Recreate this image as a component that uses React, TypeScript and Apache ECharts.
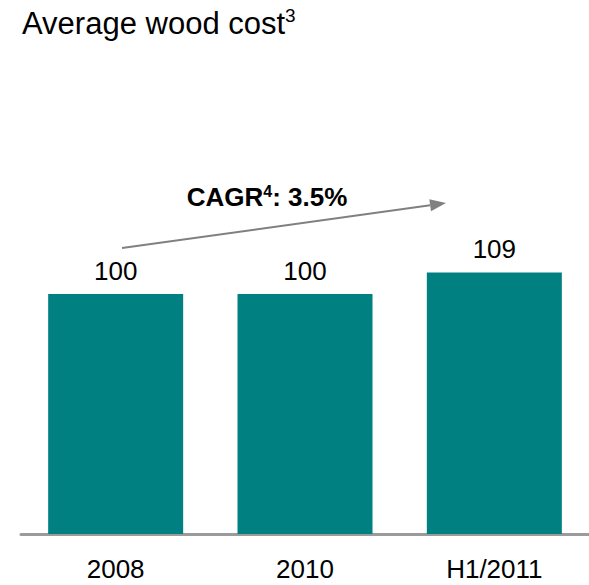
import React, { useEffect, useRef } from "react";
import * as echarts from "echarts";

const categories = ["2008", "2010", "H1/2011"];
const values = [100, 100, 109];
const titleText = "Average wood cost";
const titleNote = "3";
const cagrLabel = "CAGR";
const cagrNote = "4";
const cagrValue = ": 3.5%";

const FONT = "Liberation Sans, Arial, Helvetica, sans-serif";

export default function App() {
  const ref = useRef<HTMLDivElement>(null);
  useEffect(() => {
    document.body.style.margin = "0";
    if (!ref.current) return;
    const chart = echarts.init(ref.current, undefined, { renderer: "svg" });
    // arrow geometry (annotation)
    const x1 = 122, y1 = 248, x2 = 446, y2 = 203;
    const dx = x2 - x1, dy = y2 - y1;
    const len = Math.sqrt(dx * dx + dy * dy);
    const ux = dx / len, uy = dy / len;
    const headL = 16, headW = 6;
    const bx = x2 - ux * headL, by = y2 - uy * headL;
    const px = -uy * headW, py = ux * headW;
    chart.setOption({
      animation: false,
      grid: { left: 21, right: 0, top: 174, bottom: 51 },
      xAxis: {
        type: "category",
        data: categories,
        axisTick: { show: false },
        axisLine: { lineStyle: { color: "#9b9b9b", width: 3 } },
        axisLabel: { color: "#000", fontSize: 26, fontFamily: FONT, margin: 22, lineHeight: 26 },
      },
      yAxis: { type: "value", min: 0, max: 150, show: false, splitLine: { show: false } },
      series: [
        {
          type: "bar",
          data: values,
          barWidth: 135,
          itemStyle: { color: "#008080" },
          label: {
            show: true,
            position: "top",
            distance: 10,
            color: "#000",
            fontSize: 26,
            fontFamily: FONT,
          },
        },
      ],
      graphic: [
        {
          type: "text",
          left: 22,
          top: 6,
          style: {
            text: `{a|${titleText}}{s|${titleNote}}`,
            rich: {
              a: { fontSize: 31, fontFamily: FONT, fill: "#000", lineHeight: 34 },
              s: { fontSize: 19, fontFamily: FONT, fill: "#000", verticalAlign: "top", lineHeight: 20 },
            },
          },
        },
        {
          type: "text",
          x: 267,
          y: 197,
          style: {
            text: `{a|${cagrLabel}}{s|${cagrNote}}{a|${cagrValue}}`,
            align: "center",
            verticalAlign: "middle",
            rich: {
              a: { fontSize: 26, fontWeight: "bold", fontFamily: FONT, fill: "#000", lineHeight: 28 },
              s: { fontSize: 16, fontWeight: "bold", fontFamily: FONT, fill: "#000", verticalAlign: "top", lineHeight: 18 },
            },
          },
        },
        {
          type: "line",
          shape: { x1, y1, x2: bx, y2: by },
          style: { stroke: "#808080", lineWidth: 2 },
        },
        {
          type: "polygon",
          shape: { points: [[x2, y2], [bx + px, by + py], [bx - px, by - py]] },
          style: { fill: "#808080" },
        },
      ],
    });
    return () => chart.dispose();
  }, []);
  return <div ref={ref} style={{ width: 589, height: 585 }} />;
}
